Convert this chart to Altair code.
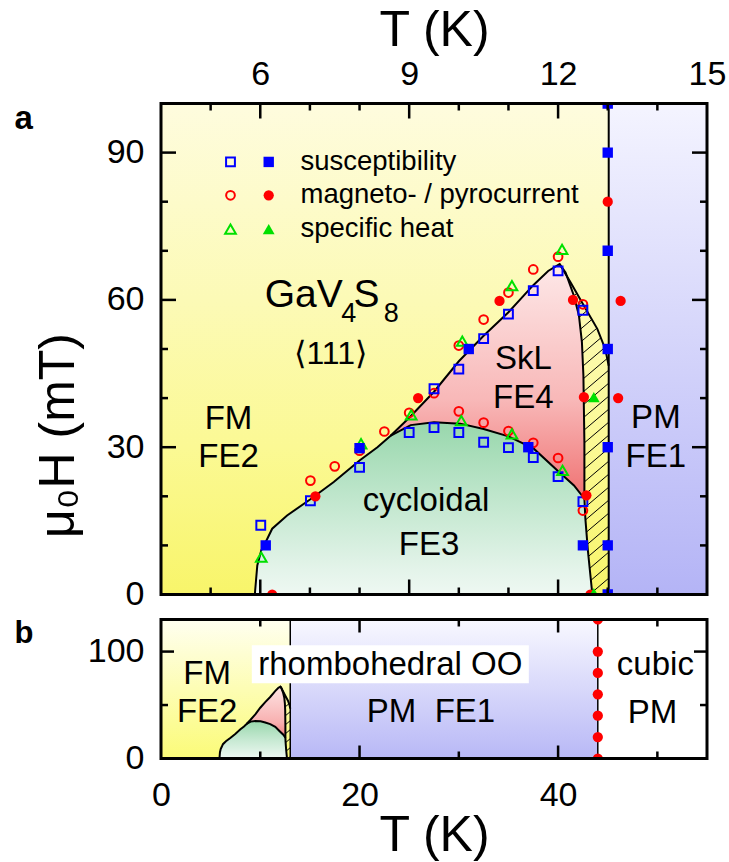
import altair as alt
import numpy as np
import pandas as pd

FONT = "Liberation Sans, Arial, Helvetica, sans-serif"

# ------------------------------------------------------------------
# data  (T in K, mu0H in mT)
# ------------------------------------------------------------------
sus_open_T = [6.01, 7.01, 8.00, 9.00, 9.50, 9.50, 10.00, 10.00, 10.50, 10.50, 11.00, 11.00, 11.50, 11.50, 12.00, 12.00, 12.50, 12.50]
sus_open_H = [14.1, 19.1, 25.9, 33.0, 41.9, 34.0, 45.9, 33.0, 52.1, 31.0, 57.1, 29.9, 61.9, 27.9, 65.9, 24.0, 57.9, 18.9]
sus_fill_T = [6.11, 8.00, 10.20, 11.40, 12.50, 13.00, 13.00, 13.00, 13.00, 13.00, 13.00, 13.00]
sus_fill_H = [10.0, 29.8, 50.0, 30.0, 10.0, 0.0, 10.0, 30.0, 50.0, 70.0, 90.0, 100.0]

mag_open_T = [7.01, 7.50, 8.00, 8.50, 9.00, 9.50, 10.00, 10.00, 10.50, 10.50, 11.00, 11.00, 11.50, 11.50, 12.00, 12.00, 12.50, 12.50]
mag_open_H = [23.2, 26.1, 29.3, 33.2, 37.0, 41.0, 50.7, 37.3, 56.0, 35.0, 61.5, 33.3, 66.2, 30.9, 68.8, 27.8, 59.1, 17.1]
mag_fill_T = [6.24, 7.11, 9.18, 10.82, 12.30, 12.52, 12.57, 12.65, 13.00, 13.00, 13.21, 13.26]
mag_fill_H = [0.0, 20.0, 40.0, 59.8, 60.0, 40.2, 20.2, 0.0, 80.0, 100.0, 40.0, 59.8]

heat_open_T = [6.02, 8.03, 9.04, 10.07, 10.05, 11.07, 11.07, 12.08, 12.09]
heat_open_H = [7.6, 30.7, 36.6, 51.6, 35.4, 62.9, 32.7, 70.3, 25.3]
heat_fill_T = [12.72, 12.72]
heat_fill_H = [40.2, 0.3]

# panel b: pyrocurrent points at the structural transition
pyro_T = [44.0, 44.0, 44.0, 44.0, 44.0, 44.0, 44.0]
pyro_H = [0.0, 20.0, 40.0, 60.0, 80.0, 100.0, 130.0]

# phase boundaries
outer_T = [5.89, 5.94, 6.02, 6.11, 6.24, 6.54, 7.01, 7.48, 8.00, 8.36, 8.62, 9.00, 9.50, 10.00, 10.50, 11.00, 11.50, 11.80, 12.03]
outer_H = [0.0, 5.9, 9.0, 10.7, 13.4, 16.1, 19.4, 22.9, 27.3, 30.0, 32.3, 36.0, 41.3, 47.5, 52.7, 57.5, 63.0, 65.9, 67.3]
skl_right_T = [12.03, 12.15, 12.32, 12.42, 12.48, 12.51, 12.52, 12.53, 12.53, 12.53]
skl_right_H = [67.3, 65.6, 60.8, 56.8, 51.4, 44.6, 37.8, 31.0, 25.0, 19.5]
cyc_right_T = [12.53, 12.55, 12.60, 12.65, 12.69]
cyc_right_H = [19.5, 15.4, 9.0, 4.0, 0.0]
cyc_top_T = [8.62, 9.03, 9.50, 10.03, 10.50, 11.00, 11.51, 11.98, 12.32, 12.53]
cyc_top_H = [32.3, 34.5, 35.1, 34.8, 33.7, 32.2, 29.7, 25.3, 22.2, 19.5]
hatch_right_T = [12.03, 12.25, 12.52, 12.79, 12.95, 13.02]
hatch_right_H = [67.3, 63.6, 58.8, 54.1, 50.0, 46.6]
T_c = 13.02      # magnetic ordering
T_JT = 44.0      # structural transition

# axis ticks / labels
top_x_major = [6, 9, 12, 15]
top_x_minor = [5, 7, 8, 10, 11, 13, 14]
top_y_major = [0, 30, 60, 90]
top_y_minor = [10, 20, 40, 50, 70, 80]
bot_x_major = [0, 20, 40]
bot_x_minor = [10, 30, 50]
bot_y_major = [0, 100]
bot_y_minor = [50]

# legend
leg_labels = ["susceptibility", "magneto- / pyrocurrent", "specific heat"]
leg_H = [88.1, 81.3, 74.4]

# ------------------------------------------------------------------
W, H1, H2 = 546, 491, 139
TOP_X, TOP_Y = [4, 15], [0, 100]
BOT_X, BOT_Y = [0, 55], [0, 130]

AXL = dict(grid=False, domain=False, ticks=False, tickSize=0, labelColor="black",
           titleColor="black", labelFont=FONT, titleFont=FONT, labelFontSize=34,
           labelFlush=False, labelOverlap=False, titleFontWeight="normal")


class Enc:
    """x / y encoders of one panel; every layer carries the same axis spec so they merge."""

    def __init__(self, xd, yd, xaxis, yaxis):
        self.xd, self.yd, self.xaxis, self.yaxis = xd, yd, xaxis, yaxis

    def x(self, field):
        return alt.X(field, type="quantitative",
                     scale=alt.Scale(domain=self.xd, nice=False, zero=False), axis=self.xaxis)

    def y(self, field):
        return alt.Y(field, type="quantitative",
                     scale=alt.Scale(domain=self.yd, nice=False, zero=False), axis=self.yaxis)


def grad(stops):
    return {"gradient": "linear", "x1": 0, "x2": 0, "y1": 0, "y2": 1,
            "stops": [{"offset": o, "color": c} for o, c in stops]}


def hatch_segments(pT, pH, sx, sy, gap, slope=0.85):
    u = np.asarray(pT, float) * sx
    v = np.asarray(pH, float) * sy
    f = v - slope * u
    n = len(u)
    out = []
    for c in np.arange(np.ceil(f.min() / gap) * gap, f.max(), gap):
        pts = []
        for i in range(n):
            j = (i + 1) % n
            a, b = f[i] - c, f[j] - c
            if (a < 0) != (b < 0):
                t = a / (a - b)
                pts.append((u[i] + t * (u[j] - u[i]), v[i] + t * (v[j] - v[i])))
        pts.sort()
        for k in range(0, len(pts) - 1, 2):
            (u0, v0), (u1, v1) = pts[k], pts[k + 1]
            out.append({"T0": u0 / sx, "H0": v0 / sy, "T1": u1 / sx, "H1": v1 / sy})
    return pd.DataFrame(out)


pocket_df = pd.DataFrame({"T": outer_T + skl_right_T[1:] + cyc_right_T[1:],
                          "H": outer_H + skl_right_H[1:] + cyc_right_H[1:]})
pocket_df["Hb"] = 0.0
j0 = outer_T.index(cyc_top_T[0])
cyc_df = pd.DataFrame({"T": outer_T[:j0 + 1] + cyc_top_T[1:] + cyc_right_T[1:],
                       "H": outer_H[:j0 + 1] + cyc_top_H[1:] + cyc_right_H[1:]})
cyc_df["Hb"] = 0.0

rows = []
for seg, ts, hs in [("pocket", pocket_df["T"].tolist(), pocket_df["H"].tolist()),
                    ("cyc", cyc_top_T, cyc_top_H),
                    ("hatch", hatch_right_T, hatch_right_H)]:
    for i, (t, h) in enumerate(zip(ts, hs)):
        rows.append({"seg": seg, "i": i, "T": t, "H": h})
lines_df = pd.DataFrame(rows)

poly_T = skl_right_T + cyc_right_T[1:] + [T_c] + hatch_right_T[::-1][:-1]
poly_H = skl_right_H + cyc_right_H[1:] + [0.0] + hatch_right_H[::-1][:-1]

SOURCES = [
    ("magneto- / pyrocurrent", "#ff0000", "circle", mag_open_T, mag_open_H, mag_fill_T, mag_fill_H),
    ("susceptibility", "#0000ff", "square", sus_open_T, sus_open_H, sus_fill_T, sus_fill_H),
    ("specific heat", "#00e000", "triangle-up", heat_open_T, heat_open_H, heat_fill_T, heat_fill_H),
]
OPEN_SIZE = {"square": 78, "circle": 76, "triangle-up": 115}
FILL_SIZE = {"square": 108, "circle": 105, "triangle-up": 140}


def inside(vals, dom):
    return [v for v in vals if dom[0] < v < dom[1]]


def frame_and_ticks(E, w, h, xmaj, xmin, ymaj, ymin, lmaj, lmin):
    """inward ticks on all four sides (two-point line paths in data coordinates) and a frame"""
    (x0, x1), (y0, y1) = E.xd, E.yd
    ux = (x1 - x0) / w   # data units per pixel
    uy = (y1 - y0) / h
    segs = []
    for vals, ln in [(inside(xmaj, E.xd), lmaj), (inside(xmin, E.xd), lmin)]:
        for v in vals:
            segs.append((v, v, y1, y1 - ln * uy))
            segs.append((v, v, y0, y0 + ln * uy))
    for vals, ln in [(inside(ymaj, E.yd), lmaj), (inside(ymin, E.yd), lmin)]:
        for v in vals:
            segs.append((x0, x0 + ln * ux, v, v))
            segs.append((x1, x1 - ln * ux, v, v))
    pts = []
    for sid, (a0, a1, b0, b1) in enumerate(segs):
        pts.append({"id": sid, "k": 0, "a": a0, "b": b0})
        pts.append({"id": sid, "k": 1, "a": a1, "b": b1})
    tdf = pd.DataFrame(pts)
    out = [alt.Chart(tdf).mark_line(color="black", strokeWidth=2.5, strokeCap="butt").encode(
        x=E.x("a"), y=E.y("b"), detail="id:N", order="k:Q")]
    fdf = pd.DataFrame({"a0": [x0], "a1": [x1], "b0": [y0], "b1": [y1]})
    out.append(alt.Chart(fdf).mark_rect(fill="transparent", stroke="black", strokeWidth=3).encode(
        x=E.x("a0"), x2="a1", y=E.y("b0"), y2="b1"))
    return out


def panel(E, bg, red_g, green_g, sx, sy, gap, vlines):
    layers = []
    for t0, t1, g in bg:
        df = pd.DataFrame({"T0": [t0], "T1": [t1], "H0": [E.yd[0]], "H1": [E.yd[1]]})
        layers.append(alt.Chart(df).mark_rect(fill=grad(g)).encode(
            x=E.x("T0"), x2="T1", y=E.y("H0"), y2="H1"))
    layers.append(alt.Chart(pocket_df).mark_area(fill=grad(red_g)).encode(
        x=E.x("T"), y=E.y("H"), y2="Hb"))
    layers.append(alt.Chart(cyc_df).mark_area(fill=grad(green_g)).encode(
        x=E.x("T"), y=E.y("H"), y2="Hb"))
    hdf = hatch_segments(poly_T, poly_H, sx, sy, gap)
    layers.append(alt.Chart(hdf).mark_rule(color="black", strokeWidth=1).encode(
        x=E.x("T0"), x2="T1", y=E.y("H0"), y2="H1"))
    vdf = pd.DataFrame({"T": [v for v, _ in vlines], "H0": [E.yd[0]] * len(vlines),
                        "H1": [E.yd[1]] * len(vlines), "w": [w for _, w in vlines]})
    layers.append(alt.Chart(vdf).mark_rule(color="black").encode(
        x=E.x("T"), y=E.y("H0"), y2="H1",
        strokeWidth=alt.StrokeWidth("w:Q", scale=None)))
    layers.append(alt.Chart(lines_df).mark_line(color="black", strokeWidth=2).encode(
        x=E.x("T"), y=E.y("H"), detail="seg:N", order="i:Q"))
    return layers


# ------------------------------- panel a -------------------------------
top_xaxis = alt.Axis(orient="top", values=top_x_major, labelPadding=19, labelBaseline="alphabetic",
                     title="T (K)", titleFontSize=50, titleY=-58, titleBaseline="alphabetic", **AXL)
top_yaxis = alt.Axis(orient="left", values=top_y_major, labelPadding=17, title="μ₀H (mT)",
                     titleFontSize=50, titleAngle=270, titleX=-88, titleY=331.5,
                     titleAlign="center", titleBaseline="alphabetic", **AXL)
ET = Enc(TOP_X, TOP_Y, top_xaxis, top_yaxis)

top_layers = panel(
    ET,
    bg=[(TOP_X[0], T_c, [(0, "#fefcde"), (0.4, "#fcfab6"), (0.7, "#fbf994"), (1, "#f8f56a")]),
        (T_c, TOP_X[1], [(0, "#f4f4ff"), (1, "#b4b4f6")])],
    red_g=[(0, "#fde8e8"), (0.41, "#f8b8b8"), (0.70, "#f07474"), (1, "#f07474")],
    green_g=[(0, "#98d7ac"), (0.43, "#bfe6cc"), (0.86, "#e4f4ea"), (1, "#eef8f2")],
    sx=W / 11.0, sy=H1 / 100.0, gap=13, vlines=[(T_c, 2)])

# data points
for name, col, shp, oT, oH, fT, fH in SOURCES:
    top_layers.append(alt.Chart(pd.DataFrame({"T": oT, "H": oH})).mark_point(
        shape=shp, filled=False, color=col, strokeWidth=2, size=OPEN_SIZE[shp], opacity=1,
        clip=True).encode(x=ET.x("T"), y=ET.y("H")))
for name, col, shp, oT, oH, fT, fH in SOURCES:
    top_layers.append(alt.Chart(pd.DataFrame({"T": fT, "H": fH})).mark_point(
        shape=shp, filled=True, color=col, size=FILL_SIZE[shp], opacity=1,
        clip=True).encode(x=ET.x("T"), y=ET.y("H")))

# legend (open / filled symbol pair + label)
for name, col, shp, *_ in SOURCES:
    hrow = leg_H[leg_labels.index(name)]
    top_layers.append(alt.Chart(pd.DataFrame({"T": [5.40], "H": [hrow]})).mark_point(
        shape=shp, filled=False, color=col, strokeWidth=2, size=OPEN_SIZE[shp], opacity=1
    ).encode(x=ET.x("T"), y=ET.y("H")))
    top_layers.append(alt.Chart(pd.DataFrame({"T": [6.17], "H": [hrow]})).mark_point(
        shape=shp, filled=True, color=col, size=FILL_SIZE[shp], opacity=1
    ).encode(x=ET.x("T"), y=ET.y("H")))
leg_df = pd.DataFrame({"T": [6.81] * 3, "H": leg_H, "text": leg_labels})
top_layers.append(alt.Chart(leg_df).mark_text(
    font=FONT, fontSize=27.5, align="left", baseline="alphabetic", dy=8, color="black"
).encode(x=ET.x("T"), y=ET.y("H"), text="text:N"))

# region labels (centred)
top_lab = pd.DataFrame({
    "text": ["FM", "FE2", "⟨111⟩", "SkL", "FE4", "cycloidal", "FE3", "PM", "FE1"],
    "T": [5.36, 5.36, 7.42, 11.30, 11.30, 9.34, 9.40, 13.97, 13.97],
    "H": [33.7, 25.9, 46.9, 45.9, 38.0, 17.1, 8.0, 33.9, 25.9],
    "fs": [33, 33, 32, 33, 33, 33, 33, 33, 33],
})
top_layers.append(alt.Chart(top_lab).mark_text(
    font=FONT, align="center", baseline="alphabetic", color="black"
).encode(x=ET.x("T"), y=ET.y("H"), text="text:N",
         size=alt.Size("fs:Q", scale=None)))
# chemical formula with subscripts (left aligned pieces)
formula = pd.DataFrame({
    "text": ["GaV", "4", "S", "8"],
    "T": [6.09, 7.63, 7.88, 8.49],
    "H": [58.5, 55.4, 58.5, 55.4],
    "fs": [39, 27, 39, 27],
})
top_layers.append(alt.Chart(formula).mark_text(
    font=FONT, align="left", baseline="alphabetic", color="black"
).encode(x=ET.x("T"), y=ET.y("H"), text="text:N",
         size=alt.Size("fs:Q", scale=None)))
top_layers += frame_and_ticks(ET, W, H1, top_x_major, top_x_minor,
                              top_y_major, top_y_minor, 15, 7)
top_layers.append(alt.Chart(pd.DataFrame({"t": ["a"]})).mark_text(
    font=FONT, fontSize=33, fontWeight="bold", align="left", baseline="alphabetic", color="black"
).encode(x=alt.value(-146.5), y=alt.value(25), text="t:N"))

top = alt.layer(*top_layers).properties(width=W, height=H1)

# ------------------------------- panel b -------------------------------
bot_xaxis = alt.Axis(orient="bottom", values=bot_x_major, labelPadding=46.6,
                     labelBaseline="alphabetic", title="T (K)", titleFontSize=50, titleY=92.4,
                     titleBaseline="alphabetic", **AXL)
bot_yaxis = alt.Axis(orient="left", values=bot_y_major, labelPadding=17, title=None, **AXL)
EB = Enc(BOT_X, BOT_Y, bot_xaxis, bot_yaxis)

bot_layers = panel(
    EB,
    bg=[(BOT_X[0], T_c, [(0, "#fffff0"), (1, "#fbfb78")]),
        (T_c, T_JT, [(0, "#f8f8ff"), (1, "#b8b8f6")])],
    red_g=[(0, "#fde4e4"), (0.5, "#f8b0b0"), (0.72, "#f07878"), (1, "#f07878")],
    green_g=[(0, "#98d7ac"), (0.5, "#c6e9d2"), (1, "#eef8f2")],
    sx=W / 55.0, sy=H2 / 130.0, gap=9, vlines=[(T_c, 1.5), (T_JT, 1.5)])

box_df = pd.DataFrame({"T": [23.1], "H": [88.2]})
bot_layers.append(alt.Chart(box_df).mark_rect(fill="white", width=277, height=38).encode(
    x=EB.x("T"), y=EB.y("H")))
bot_lab = pd.DataFrame({
    "text": ["FM", "FE2", "rhombohedral OO", "PM\u00a0\u00a0FE1", "cubic", "PM"],
    "T": [4.65, 4.65, 23.1, 27.2, 49.8, 49.5],
    "H": [70.0, 34.2, 77.9, 34.3, 77.9, 33.6],
})
bot_layers.append(alt.Chart(bot_lab).mark_text(
    font=FONT, fontSize=33, align="center", baseline="alphabetic", color="black"
).encode(x=EB.x("T"), y=EB.y("H"), text="text:N"))
bot_layers.append(alt.Chart(pd.DataFrame({"T": pyro_T, "H": pyro_H})).mark_point(
    shape="circle", filled=True, color="#ff0000", size=105, opacity=1, clip=True
).encode(x=EB.x("T"), y=EB.y("H")))
bot_layers += frame_and_ticks(EB, W, H2, bot_x_major, bot_x_minor,
                              bot_y_major, bot_y_minor, 13, 7)
bot_layers.append(alt.Chart(pd.DataFrame({"t": ["b"]})).mark_text(
    font=FONT, fontSize=31, fontWeight="bold", align="left", baseline="alphabetic", color="black"
).encode(x=alt.value(-146.5), y=alt.value(23.4), text="t:N"))

bottom = alt.layer(*bot_layers).properties(width=W, height=H2)

chart = alt.vconcat(top, bottom, spacing=25, bounds="flush").properties(
    padding={"left": 14, "top": 5.5, "right": 2, "bottom": 2}
).configure(font=FONT).configure_view(strokeWidth=0)

chart.save("out.html", embed_options={"renderer": "svg", "actions": False})
